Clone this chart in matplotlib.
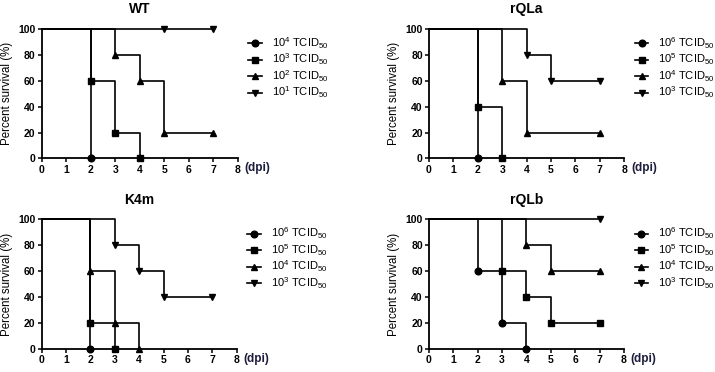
import matplotlib.pyplot as plt

plt.rcParams['font.family'] = ['Liberation Sans', 'DejaVu Sans']
plt.rcParams['mathtext.fontset'] = 'custom'
plt.rcParams['mathtext.rm'] = 'Liberation Sans'
plt.rcParams['mathtext.bf'] = 'Liberation Sans:bold'

# survival data: days of events and percent surviving after each event
wt_days = [[0, 2], [0, 2, 3, 4], [0, 3, 4, 5, 7], [0, 5, 7]]
wt_surv = [[100, 0], [100, 60, 20, 0], [100, 80, 60, 20, 20], [100, 100, 100]]
wt_doses = ['4', '3', '2', '1']

rqla_days = [[0, 2], [0, 2, 3], [0, 3, 4, 7], [0, 4, 5, 7]]
rqla_surv = [[100, 0], [100, 40, 0], [100, 60, 20, 20], [100, 80, 60, 60]]

k4m_days = [[0, 2], [0, 2, 3], [0, 2, 3, 4], [0, 3, 4, 5, 7]]
k4m_surv = [[100, 0], [100, 20, 0], [100, 60, 20, 0], [100, 80, 60, 40, 40]]

rqlb_days = [[0, 2, 3, 4], [0, 3, 4, 5, 7], [0, 4, 5, 7], [0, 7]]
rqlb_surv = [[100, 60, 20, 0], [100, 60, 40, 20, 20], [100, 80, 60, 60], [100, 100]]

mut_doses = ['6', '5', '4', '3']
markers = ['o', 's', '^', 'v']

fig = plt.figure(figsize=(7.15, 3.72), dpi=100)

panels = [
    ('WT', wt_days, wt_surv, wt_doses, [0.0583, 0.574, 0.274, 0.349]),
    ('rQLa', rqla_days, rqla_surv, mut_doses, [0.600, 0.574, 0.273, 0.349]),
    ('K4m', k4m_days, k4m_surv, mut_doses, [0.0583, 0.0618, 0.2727, 0.3487]),
    ('rQLb', rqlb_days, rqlb_surv, mut_doses, [0.600, 0.0618, 0.2727, 0.3487]),
]

for title, days, surv, doses, pos in panels:
    ax = fig.add_axes(pos)
    for d, s, dose, m in zip(days, surv, doses, markers):
        ax.plot(d, s, drawstyle='steps-post', color='black', lw=1.2,
                marker=m, markersize=4.8, markevery=list(range(1, len(d))),
                clip_on=False, zorder=3,
                label=r'$\mathregular{10^{%s}}$ TCID$_{\mathregular{50}}$' % dose)
    ax.set_xlim(0, 8)
    ax.set_ylim(0, 100)
    ax.set_xticks(range(0, 9))
    ax.set_yticks(range(0, 101, 20))
    for side in ['top', 'right']:
        ax.spines[side].set_visible(False)
    for side in ['left', 'bottom']:
        ax.spines[side].set_linewidth(1.3)
    ax.tick_params(direction='out', length=3, width=1.1, labelsize=7.5, pad=1.5)
    for lab in ax.get_xticklabels() + ax.get_yticklabels():
        lab.set_fontweight('bold')
    ax.set_ylabel('Percent survival (%)', fontsize=8.3, labelpad=4)
    ax.set_title(title, fontsize=10, fontweight='bold', pad=11)
    ax.text(1.035, -0.075, '(dpi)', transform=ax.transAxes, fontsize=8.5,
            fontweight='bold', color='#1c1c3c', ha='left', va='center')
    ax.legend(loc='upper left', bbox_to_anchor=(1.055, 0.95), frameon=False,
              fontsize=8, handlelength=1.2, handletextpad=0.9,
              labelspacing=0.08, borderaxespad=0, borderpad=0)

fig.savefig('out.png', dpi=100)
